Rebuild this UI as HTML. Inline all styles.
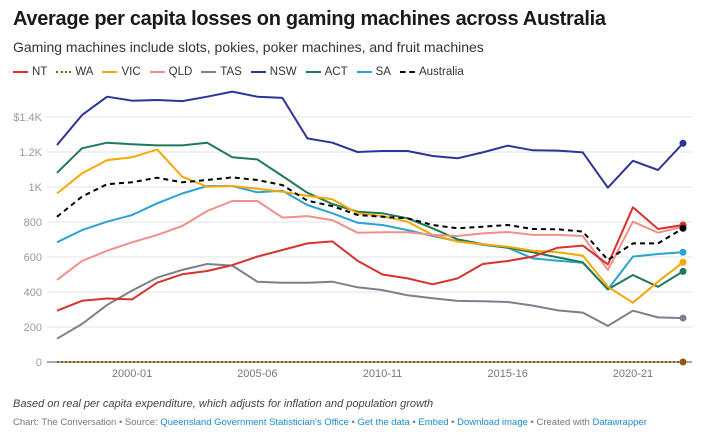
<!DOCTYPE html>
<html><head><meta charset="utf-8"><style>
body{margin:0;background:#fff;width:709px;height:441px;overflow:hidden;font-family:"Liberation Sans",sans-serif}
#title{position:absolute;left:13px;top:8px;font-size:20px;font-weight:bold;color:#1a1a1a;letter-spacing:-0.3px}
#sub{position:absolute;left:13px;top:39px;font-size:14px;color:#333}
#legend{position:absolute;left:13px;top:66px;font-size:11.5px;color:#333;display:flex;gap:9px}
#legend span{display:flex;align-items:center}
#legend i{display:inline-block;width:15px;margin-right:4px;border-top:2px solid}
#note{position:absolute;left:13px;top:398px;font-size:11px;font-style:italic;color:#444}
#src{position:absolute;left:13px;top:417px;font-size:9.5px;color:#777}
#src a{color:#1a8ad0;text-decoration:none}
svg{position:absolute;left:0;top:0}
</style></head><body>
<div id="title">Average per capita losses on gaming machines across Australia</div>
<div id="sub">Gaming machines include slots, pokies, poker machines, and fruit machines</div>
<div id="legend"></div>
<svg id="chart" width="709" height="441"></svg>
<div id="note">Based on real per capita expenditure, which adjusts for inflation and population growth</div>
<div id="src">Chart: The Conversation • Source: <a>Queensland Government Statistician's Office</a> • <a>Get the data</a> • <a>Embed</a> • <a>Download image</a> • Created with <a>Datawrapper</a></div>
<script>
const years=[1997,1998,1999,2000,2001,2002,2003,2004,2005,2006,2007,2008,2009,2010,2011,2012,2013,2014,2015,2016,2017,2018,2019,2020,2021,2022];
const xTicks=[2000,2005,2010,2015,2020];
const xTickLabels=["2000-01","2005-06","2010-11","2015-16","2020-21"];
const yTicks=[0,200,400,600,800,1000,1200,1400];
const yTickLabels=["0","200","400","600","800","1K","1.2K","$1.4K"];
const seriesNames=["NT","WA","VIC","QLD","TAS","NSW","ACT","SA","Australia"];
const NT=[293,350,363,358,453,501,520,554,602,640,678,689,579,500,478,444,478,560,577,602,653,665,558,884,760,783];
const WA=[0,0,0,0,0,0,0,0,0,0,0,0,0,0,0,0,0,0,0,0,0,0,0,0,0,0];
const VIC=[963,1078,1154,1170,1215,1059,1002,1006,990,973,949,930,850,834,802,726,688,673,659,636,627,608,430,339,459,570];
const QLD=[469,577,636,684,726,777,863,920,920,825,834,811,739,741,741,726,720,735,743,726,726,720,526,802,739,773];
const TAS=[133,217,326,408,482,526,560,551,459,453,453,459,427,411,381,364,349,347,343,322,295,282,206,293,255,251];
const NSW=[1240,1411,1516,1493,1497,1491,1516,1545,1516,1509,1278,1253,1200,1206,1206,1177,1164,1198,1236,1210,1208,1198,996,1150,1097,1250];
const ACT=[1081,1221,1253,1244,1238,1238,1253,1170,1158,1063,967,903,859,850,821,764,701,674,653,627,598,570,415,497,430,518];
const SA=[684,754,802,840,907,963,1006,1006,970,979,897,850,796,783,754,720,691,669,653,592,579,567,415,602,617,627];
const AUS=[830,945,1016,1027,1053,1027,1040,1055,1040,1011,922,891,840,830,821,783,764,773,783,760,758,745,583,678,678,764];
const colors=["#d7322d","#8a5a12","#f6a800","#f0908a","#7f7e8c","#2b3596","#1f7a57","#2aa4d2","#000"];
const data=[NT,WA,VIC,QLD,TAS,NSW,ACT,SA,AUS];
const NS="http://www.w3.org/2000/svg";
const svg=document.getElementById('chart');
const X=y=>57+(y-1997)*25.04;
const Y=v=>362-v*0.175;
function mk(t,a,p){const e=document.createElementNS(NS,t);for(const k in a)e.setAttribute(k,a[k]);(p||svg).appendChild(e);return e;}
yTicks.forEach((t,i)=>{
  const l=mk('line',{x1:47,x2:692,y1:Y(t),y2:Y(t),stroke:t===0?'#888':'#e3e3e3','stroke-width':t===0?1.5:1});
  
  
  const tx=mk('text',{x:42,y:Y(t)+4,'text-anchor':'end','font-size':11,fill:'#999','font-family':'Liberation Sans'});
  tx.textContent=yTickLabels[i];
  
  
});
xTicks.forEach((t,i)=>{
  const tx=mk('text',{x:X(t),y:377,'text-anchor':'middle','font-size':11,fill:'#777','font-family':'Liberation Sans'});
  tx.textContent=xTickLabels[i];
  
  
});
const order=[1,4,7,6,2,3,0,8,5];
order.forEach(i=>{
  const d=data[i].map((v,j)=>(j?'L':'M')+X(years[j]).toFixed(1)+','+Y(v).toFixed(1)).join('');
  const a={d:d,fill:'none',stroke:colors[i],'stroke-width':2,'stroke-linejoin':'round'};
  if(i===1){a['stroke-dasharray']='2 2';}
  if(i===8){a['stroke-dasharray']='5 4';}
  const p=mk('path',a);
  
  
  const last=data[i].length-1;
  const c=mk('circle',{cx:X(years[last]),cy:Y(data[i][last]),r:3.5,fill:colors[i]});
  
  
});
const lg=document.getElementById('legend');
seriesNames.forEach((n,i)=>{
  const s=document.createElement('span');
  
  
  const style=i===1?'dotted':(i===8?'dashed':'solid');
  s.innerHTML='<i style="border-top-color:'+colors[i]+';border-top-style:'+style+'"></i>'+n;
  lg.appendChild(s);
});
</script>
</body></html>
